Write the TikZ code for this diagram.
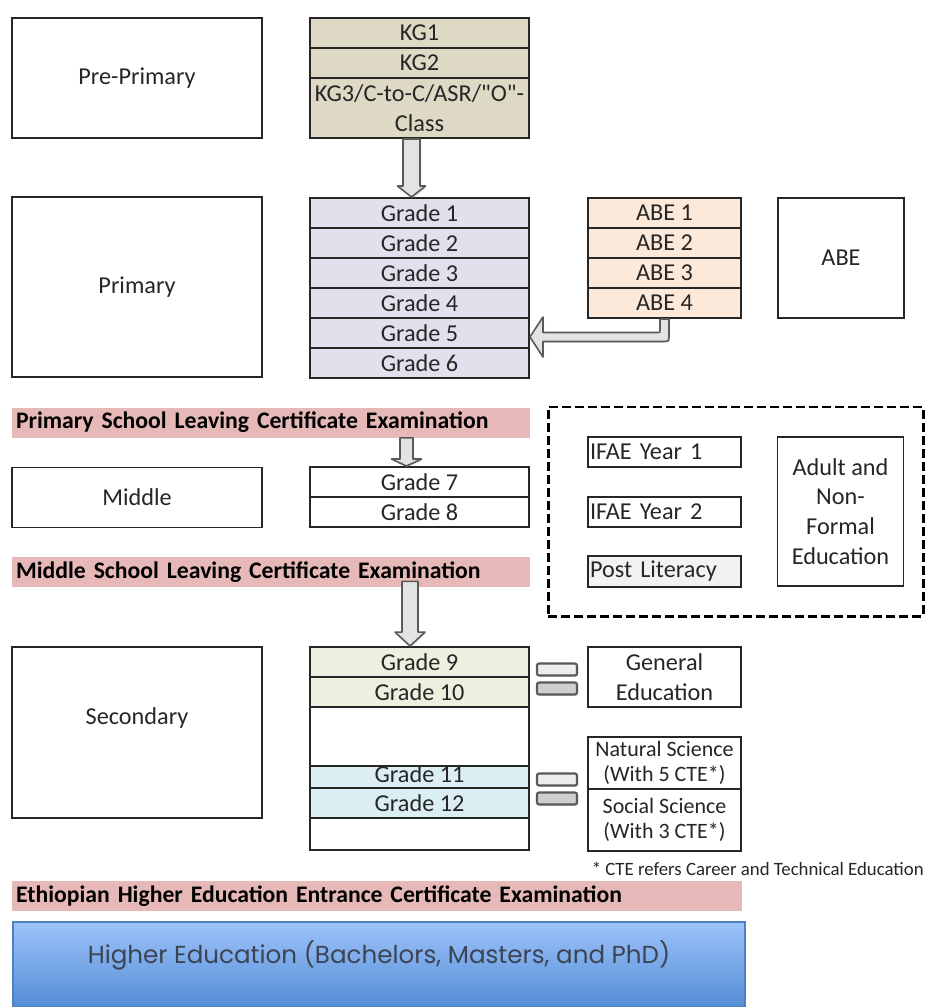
\documentclass[tikz,border=0pt]{standalone}
\usepackage{fontspec}
\setmainfont{Carlito}
\newfontfamily\higherfont{Poppins}
\usetikzlibrary{calc,shadows}

\definecolor{kgtan}{RGB}{221,217,196}
\definecolor{primlav}{RGB}{228,223,236}
\definecolor{abepeach}{RGB}{253,233,217}
\definecolor{secgreen}{RGB}{235,241,222}
\definecolor{secblue}{RGB}{218,238,243}
\definecolor{exampink}{RGB}{230,184,183}
\definecolor{postgray}{RGB}{242,242,242}
\definecolor{heTop}{RGB}{157,195,250}
\definecolor{heBottom}{RGB}{84,141,214}
\definecolor{heEdge}{RGB}{79,129,189}
\definecolor{heText}{RGB}{60,68,84}
\definecolor{inkdark}{RGB}{38,38,38}

\newcommand\boxfont{\fontsize{13.8}{17}\selectfont}
\newcommand\barfont{\bfseries\fontsize{13.5}{17}\selectfont}
\newcommand\smallboxfont{\fontsize{12.5}{13.8}\selectfont}

% hollow block arrow pointing down: start, tip, shaft half-width, head half-width, head length
\newcommand\downblock[5]{%
  \draw[blockarrow] ($(#1)+(-#3,0)$) -- ($(#2)+(-#3,-#5)$) -- ($(#2)+(-#4,-#5)$) -- (#2)
    -- ($(#2)+(#4,-#5)$) -- ($(#2)+(#3,-#5)$) -- ($(#1)+(#3,0)$) -- cycle;}

\begin{document}
\begin{tikzpicture}[x=0.02cm, y=-0.02cm,
  box/.style={draw=black!85, line width=1.1pt, fill=white, inner sep=1pt,
    align=center, text=inkdark, font=\boxfont},
  wh/.style 2 args={minimum width=#1*0.02cm, minimum height=#2*0.02cm},
  exambar/.style={fill=exampink, inner xsep=0.08cm, inner ysep=0pt,
    minimum height=0.6cm, align=left, text=black, font=\barfont},
  leftbox/.style={box, align=left, inner xsep=0.04cm, text width=2.98cm, minimum height=0.6cm},
  eqbar/.style={draw=black!65, line width=1.2pt, rounded corners=1.2pt,
    minimum width=0.8cm, minimum height=0.24cm, inner sep=0pt,
    drop shadow={opacity=0.3, shadow xshift=0.7pt, shadow yshift=-0.7pt}},
  blockarrow/.style={fill=gray!22, draw=black!65, line width=0.9pt, line join=round,
    drop shadow={opacity=0.25, shadow xshift=0.7pt, shadow yshift=-0.7pt}},
  afnebox/.style={draw=black, line width=1.7pt, dash pattern=on 5pt off 2.4pt},
]
\fill[white] (0,0) rectangle (926,1007);
\useasboundingbox (0,0) rectangle (926,1007);

% pre-primary level
\node[box, wh={250}{120}] (preprimary) at (137,78) {Pre-Primary};
\node[box, wh={219}{30}, fill=kgtan] (kg1) at (419.5,33) {KG1};
\node[box, wh={219}{30}, fill=kgtan] (kg2) at (419.5,63) {KG2};
\node[box, wh={219}{60}, fill=kgtan] (kg3) at (419.5,108) {KG3/C-to-C/ASR/\textquotedbl O\textquotedbl-\\Class};

% primary level
\node[box, wh={250}{180}] (primary) at (137,287) {Primary};
\foreach \i in {1,...,6}
  \node[box, wh={219}{30}, fill=primlav] (g\i) at (419.5,183+30*\i) {Grade \i};
\foreach \i in {1,...,4}
  \node[box, wh={153}{30}, fill=abepeach] (abe\i) at (664.5,183+30*\i) {ABE \i};
\node[box, wh={126}{120}] (abe) at (841,258) {ABE};

% primary leaving exam and middle level
\node[exambar, text width=10.2cm] (exam1) at (271,422.5) {Primary School Leaving Certificate Examination};
\node[box, wh={250}{60}] (middle) at (137,497.5) {Middle};
\node[box, wh={219}{30}] (g7) at (419.5,482) {Grade 7};
\node[box, wh={219}{30}] (g8) at (419.5,512) {Grade 8};
\node[exambar, text width=10.2cm] (exam2) at (271,572) {Middle School Leaving Certificate Examination};

% adult and non-formal education
\node[afnebox, wh={375}{209}] (afne) at (735.5,511.5) {};
\node[leftbox] (ifae1) at (664.5,452) {IFAE Year 1};
\node[leftbox] (ifae2) at (664.5,512) {IFAE Year 2};
\node[leftbox, fill=postgray, minimum height=0.62cm] (postlit) at (664.5,571.5) {Post Literacy};
\node[box, wh={126}{149}] (adult) at (840.5,511.5) {Adult and\\Non-\\Formal\\Education};

% secondary level
\node[box, wh={250}{171}] (secondary) at (137,732.5) {};
\node[text=inkdark, font=\boxfont] (sectext) at (137,718) {Secondary};
\node[box, wh={219}{203}] (secstack) at (419.5,748.5) {};
\node[box, wh={219}{30}, fill=secgreen] (g9) at (419.5,662) {Grade 9};
\node[box, wh={219}{30}, fill=secgreen] (g10) at (419.5,692) {Grade 10};
\node[box, wh={219}{22}, fill=secblue, inner ysep=0pt, text height=9pt, text depth=2.6pt] (g11) at (419.5,777) {Grade 11};
\node[box, wh={219}{30}, fill=secblue] (g12) at (419.5,803) {Grade 12};

\node[eqbar, fill=gray!14] (eq1a) at (557,669.5) {};
\node[eqbar, fill=gray!38] (eq1b) at (557,688.5) {};
\node[eqbar, fill=gray!14] (eq2a) at (557,779.5) {};
\node[eqbar, fill=gray!38] (eq2b) at (557,798.5) {};

\node[box, wh={153}{60}] (general) at (664.5,677) {General\\Education};
\node[box, wh={153}{52}, font=\smallboxfont] (natsci) at (664.5,763) {Natural Science\\(With 5 CTE*)};
\node[box, wh={153}{62}, font=\smallboxfont] (socsci) at (664.5,820) {Social Science\\(With 3 CTE*)};
\node[anchor=east, inner sep=0pt, text=inkdark, font=\fontsize{10.7}{12}\selectfont] (ctenote) at (924,869)
  {* CTE refers Career and Technical Education};

% entrance exam and higher education
\node[exambar, text width=14.44cm] (exam3) at (377,896) {Ethiopian Higher Education Entrance Certificate Examination};
\node[draw=heEdge, line width=0.6pt, top color=heTop, bottom color=heBottom, wh={732}{85}] (higher) at (379,964.5) {};
\node[text=heText, font=\higherfont\fontsize{14}{16}\selectfont] (highertext) at (379,955)
  {Higher Education (Bachelors, Masters, and PhD)};

% progression arrows
\coordinate (kgA) at ($(kg3.south)+(-8,0)$);
\coordinate (kgT) at (kgA |- g1.north);
\downblock{kgA}{kgT}{8.5}{14}{11}

\coordinate (pA0) at (exam1.south -| g7.north);
\coordinate (pA) at ($(pA0)+(-13,0)$);
\coordinate (pT) at (pA |- g7.north);
\downblock{pA}{pT}{6.5}{15}{7}

\coordinate (mA0) at (exam2.south -| secstack.north);
\coordinate (mA) at ($(mA0)+(-9.5,-6)$);
\coordinate (mT) at (mA |- secstack.north);
\downblock{mA}{mT}{8}{15}{14}

% ABE completers join at grade 5
\coordinate (abeA) at (abe4.south);
\coordinate (abeT) at ($(g5.east)+(0,4)$);
\coordinate (abeC) at (abeA |- abeT);
\draw[blockarrow] ($(abeA)+(4.5,0)$) -- ($(abeC)+(4.5,-2.5)$)
  .. controls ($(abeC)+(4.5,4.5)$) .. ($(abeC)+(-2.5,4.5)$)
  -- ($(abeT)+(13,4.5)$) -- ($(abeT)+(13,20)$) -- (abeT) -- ($(abeT)+(13,-20)$)
  -- ($(abeT)+(13,-4.5)$) -- ($(abeC)+(-6.5,-4.5)$)
  .. controls ($(abeC)+(-4.5,-4.5)$) .. ($(abeC)+(-4.5,-6.5)$)
  -- ($(abeA)+(-4.5,0)$) -- cycle;
\end{tikzpicture}
\end{document}
